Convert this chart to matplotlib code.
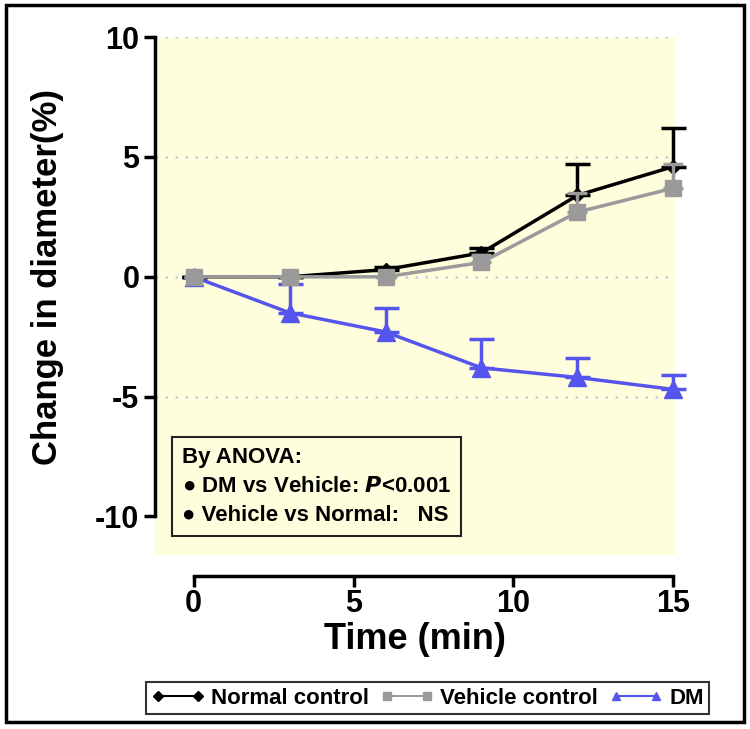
import numpy as np
import matplotlib
matplotlib.use("Agg")
import matplotlib.pyplot as plt
from matplotlib.patches import Rectangle
from matplotlib.lines import Line2D

plt.rcParams['font.family'] = ['Liberation Sans', 'DejaVu Sans']
plt.rcParams['font.weight'] = 'bold'

# data
time = [0, 3, 6, 9, 12, 15]
normal = [0, 0, 0.3, 1.0, 3.4, 4.6]
normal_err = [0, 0, 0.1, 0.2, 1.3, 1.6]
vehicle = [0, 0, 0, 0.6, 2.7, 3.7]
vehicle_err = [0, 0, 0, 0.3, 0.8, 1.0]
dm = [0, -1.5, -2.3, -3.8, -4.2, -4.7]
dm_err = [0, 1.2, 1.0, 1.2, 0.8, 0.6]

blue = '#5555EE'
grey = '#9A9A9A'

fig = plt.figure(figsize=(7.5, 7.29), dpi=100)
ax = fig.add_axes([0.207, 0.239, 0.693, 0.71])
ax.set_facecolor('#FEFDDC')

for y in [10, 5, 0, -5]:
    ax.axhline(y, color='#BCD3E8', linestyle=(0, (1, 3)), linewidth=1.8, zorder=1)

# upper error bars only
def up(e):
    return [np.zeros(len(e)), e]

ax.errorbar(time, dm, yerr=up(dm_err), color=blue, ecolor=blue, elinewidth=2.5,
            capsize=9, capthick=2.5, linewidth=2.5, marker='^', markersize=13,
            clip_on=False, zorder=3)
ax.errorbar(time, normal, yerr=up(normal_err), color='black', ecolor='black', elinewidth=2.5,
            capsize=9, capthick=2.5, linewidth=2.5, marker='D', markersize=7,
            clip_on=False, zorder=4)
ax.errorbar(time, vehicle, yerr=up(vehicle_err), color=grey, ecolor=grey, elinewidth=2.5,
            capsize=7, capthick=2.5, linewidth=2.5, marker='s', markersize=12,
            clip_on=False, zorder=5)

ax.set_xlim(-1.2, 15.05)
ax.set_ylim(-11.6, 10)
ax.set_xticks([0, 5, 10, 15])
ax.set_yticks([10, 5, 0, -5, -10])
ax.set_yticklabels(['10', '5', '0', '-5', '-10'])
ax.tick_params(axis='both', labelsize=22, width=2.5, length=8, direction='out')
ax.tick_params(axis='x', pad=2)
for lab in ax.get_xticklabels() + ax.get_yticklabels():
    lab.set_fontweight('bold')

ax.spines['top'].set_visible(False)
ax.spines['right'].set_visible(False)
ax.spines['left'].set_linewidth(2.5)
ax.spines['bottom'].set_linewidth(2.5)
ax.spines['left'].set_bounds(-10, 10)
ax.spines['bottom'].set_bounds(0, 15)
ax.spines['bottom'].set_position(('outward', 15))

ax.set_xlabel('Time (min)', fontsize=26, fontweight='bold', labelpad=2)
ax.set_ylabel('Change in diameter(%)', fontsize=25, fontweight='bold')
ax.yaxis.set_label_coords(-0.175, (0 + 11.6) / 21.6)

ax.text(0.052, 0.131,
        'By ANOVA:\n\u25CF DM vs Vehicle: $\\mathbf{\\mathit{P}}$<0.001\n\u25CF Vehicle vs Normal:   NS',
        transform=ax.transAxes, fontsize=16, fontweight='bold', va='center', ha='left',
        linespacing=1.5,
        bbox=dict(boxstyle='square,pad=0.45', facecolor='#FEFDDC', edgecolor='#222222', linewidth=1.5),
        zorder=6)

handles = [
    Line2D([], [], color='black', linewidth=1.5, marker='D', markersize=5),
    Line2D([], [], color=grey, linewidth=1.5, marker='s', markersize=6),
    Line2D([], [], color=blue, linewidth=1.5, marker='^', markersize=6),
]
labels = ['Normal control', 'Vehicle control', 'DM']
leg = fig.legend(handles, labels, loc='center',
                 bbox_to_anchor=(0.57, 0.042), ncol=3, fontsize=16, frameon=True,
                 fancybox=False, edgecolor='black', numpoints=2,
                 handlelength=2.4, columnspacing=0.5, handletextpad=0.3, borderpad=0.25)
leg.get_frame().set_linewidth(1.5)

fig.patches.append(Rectangle((0.008, 0.01), 0.984, 0.983, transform=fig.transFigure,
                             fill=False, edgecolor='black', linewidth=2.5))

fig.savefig('out.png', dpi=100, facecolor='white')
